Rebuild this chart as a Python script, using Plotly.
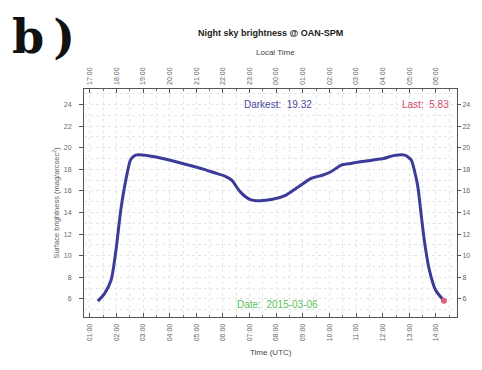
import plotly.graph_objects as go

# UTC time in decimal hours and surface brightness (mag/arcsec^2)
utc_hours = [1.30, 1.55, 1.80, 1.98, 2.16, 2.35, 2.53, 2.72, 3.20, 3.82, 4.55, 5.29,
             5.78, 6.05, 6.33, 6.64, 7.00, 7.37, 7.86, 8.35, 8.84, 9.33, 9.76,
             10.07, 10.44, 10.80, 11.17, 11.60, 12.03, 12.40, 12.83, 13.07,
             13.20, 13.32, 13.44, 13.56, 13.75, 13.99, 14.30]
brightness = [5.80, 6.50, 7.76, 10.5, 14.2, 17.0, 18.9, 19.32, 19.27, 18.96, 18.50, 18.00,
              17.60, 17.40, 17.00, 15.94, 15.23, 15.10, 15.23, 15.60, 16.40, 17.18, 17.48,
              17.80, 18.40, 18.55, 18.70, 18.85, 19.00, 19.27, 19.32, 18.87,
              17.80, 16.40, 13.90, 11.46, 8.70, 6.80, 5.83]

utc_ticks = list(range(1, 15))
utc_labels = ["01:00", "02:00", "03:00", "04:00", "05:00", "06:00", "07:00",
              "08:00", "09:00", "10:00", "11:00", "12:00", "13:00", "14:00"]
local_labels = ["17:00", "18:00", "19:00", "20:00", "21:00", "22:00", "23:00",
                "00:00", "01:00", "02:00", "03:00", "04:00", "05:00", "06:00"]
y_ticks = [6, 8, 10, 12, 14, 16, 18, 20, 22, 24]

darkest = 19.32
last = 5.83
date_str = "2015-03-06"

line_color = "#3c3c98"
font = "Liberation Sans, Arial, sans-serif"
x_range = [0.78, 14.79]
y_range = [4.33, 25.44]

fig = go.Figure()
fig.add_trace(go.Scatter(x=utc_hours, y=brightness, mode="lines",
                         line=dict(color=line_color, width=3, shape="spline", smoothing=0.6),
                         hoverinfo="skip", showlegend=False))
fig.add_trace(go.Scatter(x=[utc_hours[-1]], y=[brightness[-1]], mode="markers",
                         marker=dict(color="#e0607a", size=6),
                         showlegend=False))
# invisible trace for secondary axes
fig.add_trace(go.Scatter(x=[utc_hours[0]], y=[brightness[0]], xaxis="x2", yaxis="y2",
                         mode="markers", marker=dict(opacity=0), showlegend=False,
                         hoverinfo="skip"))

tickfont = dict(family=font, size=7, color="#666666")
grid = "#e6e6e6"

# The page body has an 8px default margin, so the figure is drawn 8px smaller
fig.update_layout(
    width=474, height=362,
    margin=dict(l=76, r=17, t=81, b=53),
    paper_bgcolor="white", plot_bgcolor="white",
    font=dict(family=font),
    xaxis=dict(range=x_range, tickvals=utc_ticks, ticktext=utc_labels, tickangle=-90,
               tickfont=tickfont, showgrid=True, gridcolor=grid, griddash="dot",
               showline=True, linecolor="#555555", linewidth=1, mirror=True,
               ticks="inside", ticklen=4, tickcolor="#555555", zeroline=False,
               ticklabelstandoff=3,
               minor=dict(dtick=0.5, tick0=0, showgrid=True, gridcolor=grid, griddash="dot",
                          ticks="inside", ticklen=2, tickcolor="#777777")),
    xaxis2=dict(range=x_range, overlaying="x", side="top", tickvals=utc_ticks,
                ticktext=local_labels, tickangle=-90, tickfont=tickfont,
                showgrid=False, ticks="inside", ticklen=4, tickcolor="#555555",
                zeroline=False, ticklabelstandoff=3,
                minor=dict(dtick=0.5, tick0=0, ticks="inside", ticklen=2, tickcolor="#777777")),
    yaxis=dict(range=y_range, tickvals=y_ticks, tickfont=tickfont,
               showgrid=True, gridcolor=grid, griddash="dot",
               showline=True, linecolor="#555555", linewidth=1, mirror=True,
               ticks="outside", ticklen=4, tickcolor="#555555", zeroline=False,
               ticklabelstandoff=6,
               minor=dict(dtick=1, tick0=0, showgrid=True, gridcolor=grid, griddash="dot")),
    yaxis2=dict(range=y_range, overlaying="y", side="right", tickvals=y_ticks,
                tickfont=tickfont, showgrid=False, ticks="outside", ticklen=3,
                tickcolor="#555555", zeroline=False),
)

# positions given in screen pixels of the reference; converted to plot-area paper coords
L, R, T, B = 84, 465, 89, 317
ann = [
    dict(text="<b>b\u2009)</b>", x=8, y=8, xanchor="left", yanchor="top",
         font=dict(family="DejaVu Serif", size=46, color="#111111")),
    dict(text="<b>Night sky brightness @ OAN-SPM</b>", x=275, y=33,
         font=dict(family=font, size=9, color="#1a1a1a")),
    dict(text="Local Time", x=280, y=52, font=dict(family=font, size=8, color="#444444")),
    dict(text="Time (UTC)", x=275, y=352, font=dict(family=font, size=8, color="#444444")),
    dict(text="Surface brightness (mag/arcsec<sup>2</sup>)", x=55, y=203, textangle=-90,
         font=dict(family=font, size=7.5, color="#666666")),
    dict(text=f"Darkest:  {darkest:.2f}", x=282, y=104,
         font=dict(family=font, size=10, color="#4848a0")),
    dict(text=f"Last:  {last:.2f}", x=459, y=104, xanchor="right",
         font=dict(family=font, size=10, color="#d04a6a")),
    dict(text=f"Date:  {date_str}", x=282, y=304,
         font=dict(family=font, size=10, color="#5cbf5c")),
]
for a in ann:
    xa = a.pop("xanchor", "center")
    ya = a.pop("yanchor", "middle")
    px, py = a["x"], a["y"]
    a["x"] = (px - L) / (R - L)
    a["y"] = (B - py) / (B - T)
    a["xref"] = "paper"
    a["yref"] = "paper"
    a["xanchor"] = xa
    a["yanchor"] = ya
    a["showarrow"] = False
    fig.add_annotation(**a)

fig.write_html("out.html")
